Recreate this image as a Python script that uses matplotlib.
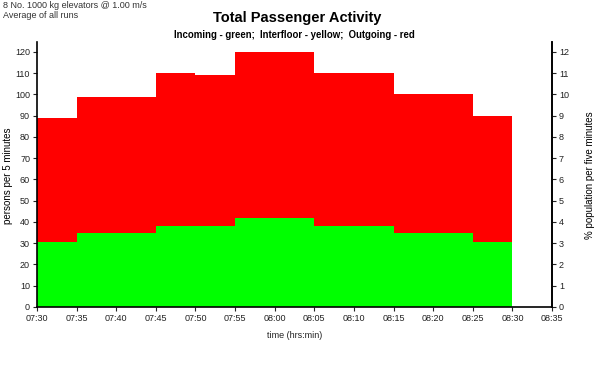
import numpy as np
import matplotlib.pyplot as plt

# ---------------- DATA ----------------
time_labels = ["07:30", "07:35", "07:40", "07:45", "07:50", "07:55", "08:00",
               "08:05", "08:10", "08:15", "08:20", "08:25", "08:30", "08:35"]
edges_min = [0, 5, 10, 15, 20, 25, 30, 35, 40, 45, 50, 55, 60]  # minutes after 07:30
incoming = [30.6, 34.8, 34.8, 38.2, 38.2, 42.0, 42.1, 38.3, 38.3, 34.8, 34.8, 30.6]
interfloor = [0, 0, 0, 0, 0, 0, 0, 0, 0, 0, 0, 0]
outgoing = [58.4, 64.2, 64.2, 71.8, 71.0, 78.0, 77.9, 71.7, 71.7, 65.2, 65.2, 59.4]
population = 1000  # persons -> % scale (right axis)

plt.rcParams['font.family'] = ['Liberation Sans', 'DejaVu Sans']

fig = plt.figure(figsize=(6.02, 3.71), dpi=100)
ax = fig.add_axes([37 / 602, 1 - 307 / 371, 515 / 602, 265 / 371])

inc = np.array(incoming)
itf = np.array(interfloor)
out = np.array(outgoing)
edges = np.array(edges_min)

ax.stairs(inc, edges, baseline=0, fill=True, color='#00FF00', lw=0)
ax.stairs(inc + itf, edges, baseline=inc, fill=True, color='#FFFF00', lw=0)
ax.stairs(inc + itf + out, edges, baseline=inc + itf, fill=True, color='#FF0000', lw=0)

ymax = 124.7
ax.set_xlim(0, 65)
ax.set_ylim(0, ymax)
ax.set_xticks(np.arange(0, 66, 5))
ax.set_xticklabels(time_labels)
ax.set_yticks(np.arange(0, 121, 10))

ax.spines['top'].set_visible(False)
for s in ('left', 'bottom', 'right'):
    ax.spines[s].set_linewidth(1.2)

ax.tick_params(axis='both', labelsize=6.5, length=3, width=0.8, colors='#222222', pad=2)

ax2 = ax.twinx()
ax2.set_ylim(0, ymax / population * 100)
ax2.set_yticks(np.arange(0, 13, 1))
for s in ('top', 'left', 'bottom'):
    ax2.spines[s].set_visible(False)
ax2.spines['right'].set_linewidth(1.2)
ax2.tick_params(axis='y', labelsize=6.5, length=3, width=0.8, colors='#222222', pad=2)

# axis titles
fig.text(8 / 602, 1 - 176 / 371, 'persons per 5 minutes', rotation=90,
         ha='center', va='center', fontsize=7)
fig.text(590 / 602, 1 - 175 / 371, '% population per five minutes', rotation=90,
         ha='center', va='center', fontsize=7)
fig.text(295 / 602, 1 - 335 / 371, 'time (hrs:min)', ha='center', va='center',
         fontsize=6.5, color='#222222')

fig.text(0.493, 1 - 18 / 371, 'Total Passenger Activity', ha='center', va='center',
         fontsize=10.5, fontweight='bold')
fig.text(0.489, 1 - 35 / 371,
         'Incoming - green;  Interfloor - yellow;  Outgoing - red',
         ha='center', va='center', fontsize=6.9, fontweight='bold')
fig.text(3 / 602, 1 - 6 / 371, '8 No. 1000 kg elevators @ 1.00 m/s', ha='left', va='center',
         fontsize=6.5, color='#333333')
fig.text(3 / 602, 1 - 15 / 371, 'Average of all runs', ha='left', va='center',
         fontsize=6.5, color='#333333')

fig.savefig('out.png', dpi=100)
